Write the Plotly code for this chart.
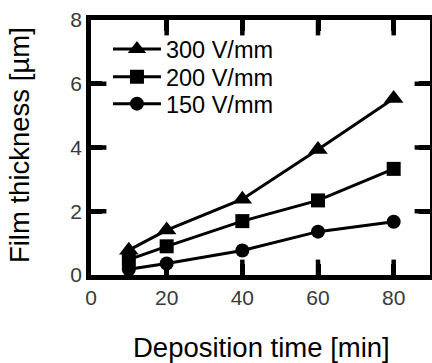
import plotly.graph_objects as go

time_min = [10, 20, 40, 60, 80]
series_names = ["300 V/mm", "200 V/mm", "150 V/mm"]
thick_300 = [0.78, 1.41, 2.38, 3.94, 5.54]
thick_200 = [0.48, 0.90, 1.69, 2.34, 3.33]
thick_150 = [0.18, 0.36, 0.77, 1.36, 1.67]
symbols = ["triangle-up", "square", "circle"]
sizes = [17, 14, 14]
legend_ids = ["legend", "legend2", "legend3"]
legend_y = [0.885, 0.777, 0.671]

x_ticks = [0, 20, 40, 60, 80]
y_ticks = [0, 2, 4, 6, 8]
x_range = [0, 89.6]
y_range = [0, 8]

font_family = "Liberation Sans, Arial, sans-serif"
tick_col = "black"

fig = go.Figure()
for name, ys, sym, sz, lid in zip(series_names, [thick_300, thick_200, thick_150], symbols, sizes, legend_ids):
    fig.add_trace(go.Scatter(
        x=time_min, y=ys, name=name, mode="lines+markers",
        line=dict(color="black", width=3),
        marker=dict(symbol=sym, size=sz, color="black"),
        legend=lid,
    ))

# inward tick marks on all four sides, drawn as clipped line markers at the tick values
inner_x = x_ticks[1:]
inner_y = y_ticks[1:-1]
fig.add_trace(go.Scatter(
    x=inner_x + inner_x, y=[y_range[0]] * len(inner_x) + [y_range[1]] * len(inner_x),
    mode="markers", showlegend=False, hoverinfo="skip", cliponaxis=True,
    marker=dict(symbol="line-ns", size=22, line=dict(width=4.5, color=tick_col)),
))
fig.add_trace(go.Scatter(
    x=[x_range[0]] * len(inner_y) + [x_range[1]] * len(inner_y), y=inner_y + inner_y,
    mode="markers", showlegend=False, hoverinfo="skip", cliponaxis=True,
    marker=dict(symbol="line-ew", size=22, line=dict(width=4.5, color=tick_col)),
))

leg_common = dict(x=0.05, xanchor="left", yanchor="middle",
                  font=dict(size=23.5, family=font_family, color="black"),
                  bgcolor="rgba(0,0,0,0)", itemwidth=48)
layout_legends = {lid: dict(y=ly, **leg_common) for lid, ly in zip(legend_ids, legend_y)}

fig.update_layout(
    width=432, height=363,
    margin=dict(l=91, r=1.5, t=20, b=88),
    plot_bgcolor="white", paper_bgcolor="white",
    showlegend=True,
    font=dict(family=font_family, color="black"),
    **layout_legends,
)
fig.update_xaxes(
    range=x_range, tickvals=x_ticks,
    ticks="inside", ticklen=11, tickwidth=4.5, tickcolor=tick_col,
    showline=True, linewidth=4.5, linecolor="black", mirror="ticks",
    showgrid=False, zeroline=False, automargin=False,
    tickfont=dict(size=21, color="#3a3a3a"),
    ticklabelstandoff=0,
)
fig.update_yaxes(
    range=y_range, tickvals=y_ticks,
    ticks="inside", ticklen=11, tickwidth=4.5, tickcolor=tick_col,
    showline=True, linewidth=4.5, linecolor="black", mirror="ticks",
    showgrid=False, zeroline=False, automargin=False,
    tickfont=dict(size=21, color="#3a3a3a"),
)
fig.add_annotation(text="Deposition time [min]", xref="paper", yref="paper",
                   x=0.503, y=-0.283, xanchor="center", yanchor="middle",
                   showarrow=False, font=dict(size=27.5, color="black"))
fig.add_annotation(text="Film thickness [µm]", xref="paper", yref="paper",
                   x=-0.209, y=0.51, xanchor="center", yanchor="middle", textangle=-90,
                   showarrow=False, font=dict(size=27.5, color="black"))

fig.write_html("out.html", config={"displayModeBar": False},
               post_script="document.body.style.margin='0px';")
